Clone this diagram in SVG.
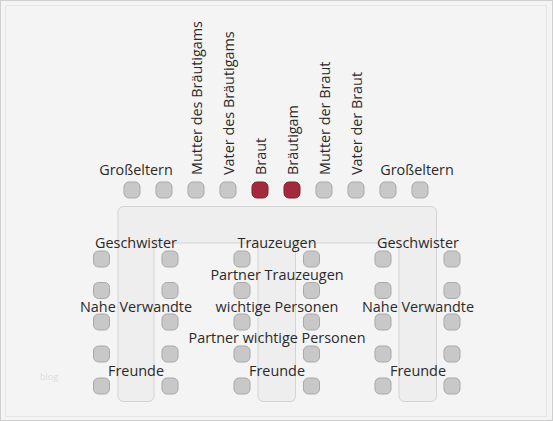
<svg xmlns="http://www.w3.org/2000/svg" width="553" height="421" viewBox="0 0 553 421">
<style>
.seat{fill:#c8c8c8;stroke:#a9a9a9;stroke-width:1}
.bride{fill:#a32a3c;stroke:#7c1f2c;stroke-width:1}
.lbl{font-family:"Open Sans","Liberation Sans",sans-serif;font-size:14.4px;fill:#2a2a2a;text-anchor:middle}
.vl{font-family:"Open Sans","Liberation Sans",sans-serif;font-size:14.4px;fill:#2a2a2a;text-anchor:start}
</style>
<defs>
<rect id="s" x="-8" y="-8" width="16" height="16" rx="5" ry="5"/>
</defs>
<rect x="0.5" y="0.5" width="552" height="420" fill="#f4f4f4" stroke="#cfcfcf"/>
<rect x="5.5" y="5.5" width="541" height="411" fill="none" stroke="#e6e6e6"/>
<text x="49" y="380" font-family="Open Sans, Liberation Sans, sans-serif" font-size="9" fill="#dcdcdc" text-anchor="middle">blog</text>
<g id="table">
<path d="M124,206.5 H430.5 Q436.5,206.5 436.5,212.5 V395.5 Q436.5,401.5 430.5,401.5 H405 Q399,401.5 399,395.5 V243 H295.5 V395.5 Q295.5,401.5 289.5,401.5 H264 Q258,401.5 258,395.5 V243 H154 V395.5 Q154,401.5 148,401.5 H124 Q118,401.5 118,395.5 V212.5 Q118,206.5 124,206.5 Z" fill="#eeeeee" stroke="#d3d3d3" stroke-width="1"/>
</g>
<g id="head-seats">
<use href="#s" class="seat" x="132" y="190"/>
<use href="#s" class="seat" x="164" y="190"/>
<use href="#s" class="seat" x="196" y="190"/>
<use href="#s" class="seat" x="228" y="190"/>
<use href="#s" class="bride" x="260" y="190"/>
<use href="#s" class="bride" x="292" y="190"/>
<use href="#s" class="seat" x="324" y="190"/>
<use href="#s" class="seat" x="356" y="190"/>
<use href="#s" class="seat" x="388" y="190"/>
<use href="#s" class="seat" x="420" y="190"/>
</g>
<g id="head-labels">
<text class="lbl" x="136" y="175">Großeltern</text>
<text class="lbl" x="417" y="175">Großeltern</text>
<text class="vl" transform="translate(202,175) rotate(-90)">Mutter des Bräutigams</text>
<text class="vl" transform="translate(234,175) rotate(-90)">Vater des Bräutigams</text>
<text class="vl" transform="translate(266,175) rotate(-90)">Braut</text>
<text class="vl" transform="translate(298,175) rotate(-90)">Bräutigam</text>
<text class="vl" transform="translate(330,175) rotate(-90)">Mutter der Braut</text>
<text class="vl" transform="translate(362,175) rotate(-90)">Vater der Braut</text>
</g>
<g id="side-seats">
<use href="#s" class="seat" x="101.5" y="259"/><use href="#s" class="seat" x="101.5" y="290.5"/><use href="#s" class="seat" x="101.5" y="322"/><use href="#s" class="seat" x="101.5" y="354"/><use href="#s" class="seat" x="101.5" y="386"/>
<use href="#s" class="seat" x="170" y="259"/><use href="#s" class="seat" x="170" y="290.5"/><use href="#s" class="seat" x="170" y="322"/><use href="#s" class="seat" x="170" y="354"/><use href="#s" class="seat" x="170" y="386"/>
<use href="#s" class="seat" x="242" y="259"/><use href="#s" class="seat" x="242" y="290.5"/><use href="#s" class="seat" x="242" y="322"/><use href="#s" class="seat" x="242" y="354"/><use href="#s" class="seat" x="242" y="386"/>
<use href="#s" class="seat" x="311.5" y="259"/><use href="#s" class="seat" x="311.5" y="290.5"/><use href="#s" class="seat" x="311.5" y="322"/><use href="#s" class="seat" x="311.5" y="354"/><use href="#s" class="seat" x="311.5" y="386"/>
<use href="#s" class="seat" x="383" y="259"/><use href="#s" class="seat" x="383" y="290.5"/><use href="#s" class="seat" x="383" y="322"/><use href="#s" class="seat" x="383" y="354"/><use href="#s" class="seat" x="383" y="386"/>
<use href="#s" class="seat" x="452" y="259"/><use href="#s" class="seat" x="452" y="290.5"/><use href="#s" class="seat" x="452" y="322"/><use href="#s" class="seat" x="452" y="354"/><use href="#s" class="seat" x="452" y="386"/>
</g>
<g id="side-labels">
<text class="lbl" x="136" y="248">Geschwister</text>
<text class="lbl" x="277" y="248">Trauzeugen</text>
<text class="lbl" x="418" y="248">Geschwister</text>
<text class="lbl" x="277" y="280">Partner Trauzeugen</text>
<text class="lbl" x="136" y="312">Nahe Verwandte</text>
<text class="lbl" x="277" y="312">wichtige Personen</text>
<text class="lbl" x="418" y="312">Nahe Verwandte</text>
<text class="lbl" x="277" y="343">Partner wichtige Personen</text>
<text class="lbl" x="136" y="376">Freunde</text>
<text class="lbl" x="277" y="376">Freunde</text>
<text class="lbl" x="418" y="376">Freunde</text>
</g>
</svg>
